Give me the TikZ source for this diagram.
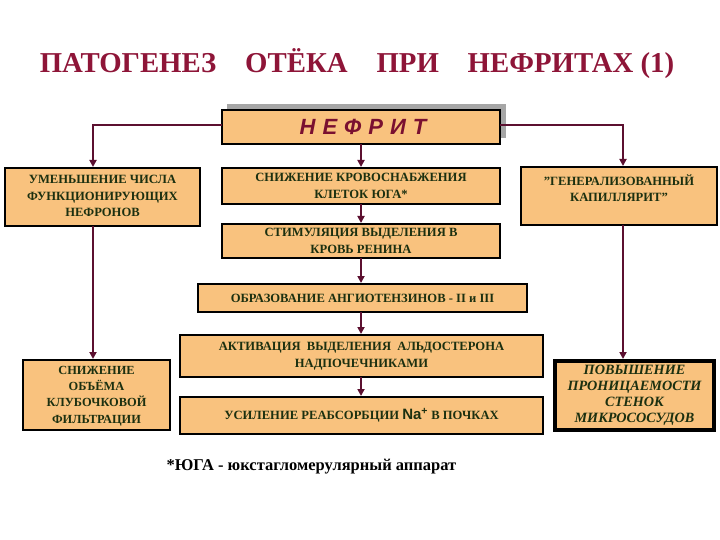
\documentclass[tikz,border=0pt]{standalone}
\usepackage{fontspec}
\setmainfont{Liberation Serif}
\newfontfamily\hsans{Liberation Sans}
\usetikzlibrary{arrows.meta}
\definecolor{boxfill}{HTML}{F9C27E}
\definecolor{ttl}{HTML}{8E1538}
\definecolor{nefc}{HTML}{7A1030}
\definecolor{txtg}{HTML}{1C3010}
\definecolor{conn}{HTML}{5C1030}
\tikzset{
  boxrect/.style={draw=black, line width=2pt, fill=boxfill},
  btext/.style={text=txtg, font=\bfseries\fontsize{12.6}{16.5}\selectfont, align=center},
  conline/.style={draw=conn, line width=1.8pt},
  conarr/.style={conline, -{Triangle[length=7pt,width=7pt]}},
}
\begin{document}
\begin{tikzpicture}[x=1pt,y=-1pt]
\useasboundingbox (0,0) rectangle (720,540);
% title
\node[text=ttl, font=\bfseries\fontsize{28.8}{32}\selectfont, anchor=center] (title) at (357,64)
  {ПАТОГЕНЕЗ\quad ОТЁКА\quad ПРИ\quad НЕФРИТАХ (1)};
% nefrit box with shadow
\fill[gray!70] (227,104) rectangle (506,138);
\draw[boxrect] (222,110) rectangle (500,144);
\node (nef) at (363,127) [minimum width=278pt, minimum height=34pt, inner sep=0pt]
  {\hsans\bfseries\itshape\fontsize{22}{24}\selectfont\color{nefc}Н\hspace{7pt}Е\hspace{7pt}Ф\hspace{7pt}Р\hspace{7pt}И\hspace{7pt}Т};
% boxes
\draw[boxrect] (5,168) rectangle (200,226);
\node[btext] (l1) at (102.5,196) {УМЕНЬШЕНИЕ ЧИСЛА\\ФУНКЦИОНИРУЮЩИХ\\НЕФРОНОВ};
\draw[boxrect] (521,167) rectangle (717,225);
\node[btext] (r1) at (619,188) {"ГЕНЕРАЛИЗОВАННЫЙ\\КАПИЛЛЯРИТ"};
\draw[boxrect] (222,168) rectangle (500,204);
\node[btext] (c1) at (361,186) {СНИЖЕНИЕ КРОВОСНАБЖЕНИЯ\\КЛЕТОК ЮГА*};
\draw[boxrect] (222,224) rectangle (500,258);
\node[btext] (c2) at (361,241) {СТИМУЛЯЦИЯ ВЫДЕЛЕНИЯ В\\КРОВЬ РЕНИНА};
\draw[boxrect] (198,284) rectangle (527,312);
\node[btext] (c3) at (362.5,298) {ОБРАЗОВАНИЕ АНГИОТЕНЗИНОВ - II и III};
\draw[boxrect] (180,335) rectangle (543,377);
\node[btext] (c4) at (361.5,356) {АКТИВАЦИЯ\ \ ВЫДЕЛЕНИЯ\ \ АЛЬДОСТЕРОНА\\НАДПОЧЕЧНИКАМИ};
\draw[boxrect] (180,397) rectangle (543,434);
\node[btext] (c5) at (361.5,415.5) {УСИЛЕНИЕ РЕАБСОРБЦИИ {\hsans\fontsize{15}{16}\selectfont Na\textsuperscript{+}} В ПОЧКАХ};
\draw[boxrect] (23,360) rectangle (170,430);
\node[btext, font=\bfseries\fontsize{12.4}{16.4}\selectfont] (l2) at (96.5,396) {СНИЖЕНИЕ\\ОБЪЁМА\\КЛУБОЧКОВОЙ\\ФИЛЬТРАЦИИ};
\draw[draw=black, line width=4pt, fill=boxfill] (555,361) rectangle (714,430);
\node[text=txtg, font=\bfseries\itshape\fontsize{14.2}{15.8}\selectfont, align=center] (r2) at (634.5,395.5)
  {ПОВЫШЕНИЕ\\ПРОНИЦАЕМОСТИ\\СТЕНОК\\МИКРОСОСУДОВ};
% connectors
\coordinate (lt) at (93,125);
\coordinate (rt) at (623,125);
\draw[conarr] (222,125) -- (lt) -- (93,167);
\draw[conarr] (500,125) -- (rt) -- (623,166);
\draw[conarr] (361,144) -- (361,167);
\draw[conarr] (361,204) -- (361,223);
\draw[conarr] (361,258) -- (361,283);
\draw[conarr] (361,312) -- (361,334);
\draw[conarr] (361,377) -- (361,396);
\draw[conarr] (93,226) -- (93,359);
\draw[conarr] (623,225) -- (623,359);
% footnote
\node[anchor=west, font=\bfseries\fontsize{16.5}{18}\selectfont] (foot) at (163,467) {*ЮГА - юкстагломерулярный аппарат};
\end{tikzpicture}
\end{document}
